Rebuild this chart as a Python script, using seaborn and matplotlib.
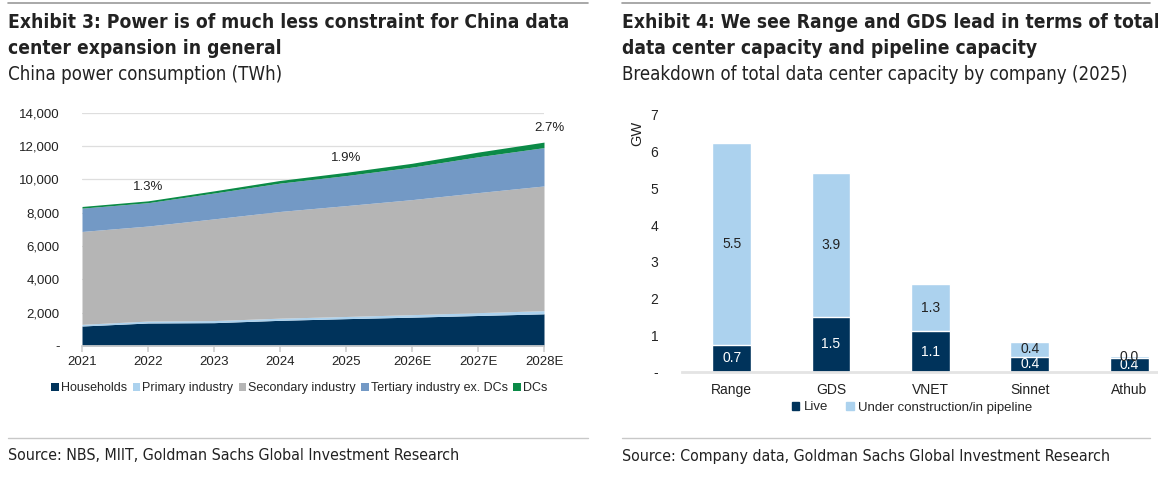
import numpy as np
import pandas as pd
import matplotlib
matplotlib.use('Agg')
import matplotlib.pyplot as plt
import seaborn as sns
from matplotlib.lines import Line2D
from matplotlib.patches import Patch

# ---- Exhibit 3 data (TWh) ----
years = ['2021', '2022', '2023', '2024', '2025', '2026E', '2027E', '2028E']
households = [1200, 1380, 1400, 1540, 1640, 1730, 1830, 1930]
primary = [100, 115, 125, 130, 130, 150, 170, 190]
secondary = [5570, 5700, 6100, 6400, 6650, 6900, 7200, 7480]
tertiary = [1400, 1400, 1550, 1700, 1800, 1950, 2150, 2300]
dcs = [100, 112, 130, 160, 197, 230, 280, 330]
dc_share_years = ['2022', '2025', '2028E']
dc_share_labels = ['1.3%', '1.9%', '2.7%']

# ---- Exhibit 4 data (GW) ----
companies = ['Range', 'GDS', 'VNET', 'Sinnet', 'Athub']
live = [0.73, 1.5, 1.1, 0.41, 0.38]
pipeline = [5.5, 3.92, 1.3, 0.4, 0.04]

sns.set_theme(style='white')
plt.rcParams['font.family'] = ['Liberation Sans', 'DejaVu Sans']
narrow = ['DejaVu Sans']

c_house = '#00335b'
c_prim = '#acd2ee'
c_sec = '#b5b5b5'
c_ter = '#7399c5'
c_dc = '#0b8a47'
txt = '#222222'

fig = plt.figure(figsize=(11.58, 4.83), dpi=100)


def header(x0, x1, lines, sub, src):
    fig.add_artist(Line2D([x0, x1], [1 - 3 / 483, 1 - 3 / 483], color='#9a9a9a', lw=1.2))
    fig.add_artist(Line2D([x0, x1], [1 - 438 / 483, 1 - 438 / 483], color='#c8c8c8', lw=1.0))
    kw = dict(family=narrow, fontstretch='condensed', color=txt, va='center', ha='left')
    fig.text(x0, 1 - 22 / 483, lines[0], fontsize=13.8, fontweight='bold', **kw)
    fig.text(x0, 1 - 48 / 483, lines[1], fontsize=13.8, fontweight='bold', **kw)
    fig.text(x0, 1 - 75 / 483, sub, fontsize=13.4, **kw)
    fig.text(x0, 1 - 456 / 483, src, fontsize=11.4, **kw)


header(8 / 1158, 588 / 1158,
       ['Exhibit 3: Power is of much less constraint for China data',
        'center expansion in general'],
       'China power consumption (TWh)',
       'Source: NBS, MIIT, Goldman Sachs Global Investment Research')
header(622 / 1158, 1150 / 1158,
       ['Exhibit 4: We see Range and GDS lead in terms of total',
        'data center capacity and pipeline capacity'],
       'Breakdown of total data center capacity by company (2025)',
       'Source: Company data, Goldman Sachs Global Investment Research')

# ---- left: stacked area ----
ax1 = fig.add_axes([82 / 1158, 1 - 346 / 483, (544 - 82) / 1158, (346 - 112.6) / 483])
x = np.arange(len(years))
series = [households, primary, secondary, tertiary, dcs]
names = ['Households', 'Primary industry', 'Secondary industry', 'Tertiary industry ex. DCs', 'DCs']
cols = [c_house, c_prim, c_sec, c_ter, c_dc]
ax1.stackplot(x, *series, colors=cols, labels=names, linewidth=0)
ax1.set_xlim(0, len(years) - 1)
ax1.set_ylim(0, 14000)
ax1.set_yticks(range(0, 14001, 2000))
ax1.set_yticklabels(['-'] + [f'{v:,}' for v in range(2000, 14001, 2000)])
ax1.set_xticks(x)
ax1.set_xticklabels(years)
ax1.grid(axis='y', color='#dedede', lw=0.9)
ax1.set_axisbelow(True)
for s in ['left', 'right', 'top']:
    ax1.spines[s].set_visible(False)
ax1.spines['bottom'].set_color('#d0d0d0')
ax1.tick_params(axis='x', bottom=True, length=4, color='#d0d0d0', labelsize=9.5,
                labelcolor=txt, pad=3)
ax1.tick_params(axis='y', left=False, labelsize=9.5, labelcolor=txt, pad=10)

totals = np.sum(series, axis=0)
for yr, lab in zip(dc_share_years, dc_share_labels):
    i = years.index(yr)
    dx = 4 if i == len(years) - 1 else 0
    ax1.annotate(lab, (i, totals[i]), xytext=(dx, 10), textcoords='offset points',
                 ha='center', va='center', fontsize=9.5, color=txt)

ax1.legend(loc='center', bbox_to_anchor=(0.47, (346 - 388) / (346 - 112.6)), ncol=5,
           frameon=False, fontsize=9, handlelength=0.6, handleheight=0.6,
           handletextpad=0.15, columnspacing=0.45, borderaxespad=0)

# ---- right: stacked bars ----
ax2 = fig.add_axes([682 / 1158, 1 - 371.7 / 483, (1158 - 682) / 1158, (371.7 - 115) / 483])
df = pd.DataFrame({'company': companies, 'live': live, 'pipeline': pipeline})
df['total'] = df['live'] + df['pipeline']
sns.barplot(data=df, x='company', y='total', color=c_prim, width=0.39, saturation=1,
            ax=ax2)
sns.barplot(data=df, x='company', y='live', color=c_house, width=0.39, saturation=1,
            ax=ax2)
ax2.set_xlim(-0.5, 4.29)
ax2.set_ylim(0, 7)
ax2.set_yticks(range(0, 8))
ax2.set_yticklabels(['-'] + [str(v) for v in range(1, 8)])
ax2.set_xlabel('')
ax2.set_ylabel('GW', fontsize=10.5, color=txt)
ax2.yaxis.set_label_coords(-0.08, 0.93)
for s in ['left', 'right', 'top']:
    ax2.spines[s].set_visible(False)
ax2.spines['bottom'].set_color('#e4e4e4')
ax2.spines['bottom'].set_linewidth(2)
ax2.tick_params(axis='y', left=False, labelsize=10, labelcolor=txt, pad=11)
ax2.tick_params(axis='x', bottom=False, labelsize=10, labelcolor=txt, pad=2)

for i, row in df.iterrows():
    ax2.text(i, row['live'] / 2, f"{row['live']:.1f}", ha='center', va='center',
             color='white', fontsize=10)
    ax2.text(i, row['live'] + row['pipeline'] / 2, f"{row['pipeline']:.1f}",
             ha='center', va='center', color=txt, fontsize=10)

handles = [Patch(color=c_house, label='Live'),
           Patch(color=c_prim, label='Under construction/in pipeline')]
ax2.legend(handles=handles, loc='center',
           bbox_to_anchor=((912 - 682) / (1158 - 682), (371.7 - 407.5) / (371.7 - 115)),
           ncol=2, frameon=False, fontsize=9.5, handlelength=0.6, handleheight=0.6,
           handletextpad=0.3, columnspacing=1.4, borderaxespad=0)

fig.savefig('out.png', dpi=100)
